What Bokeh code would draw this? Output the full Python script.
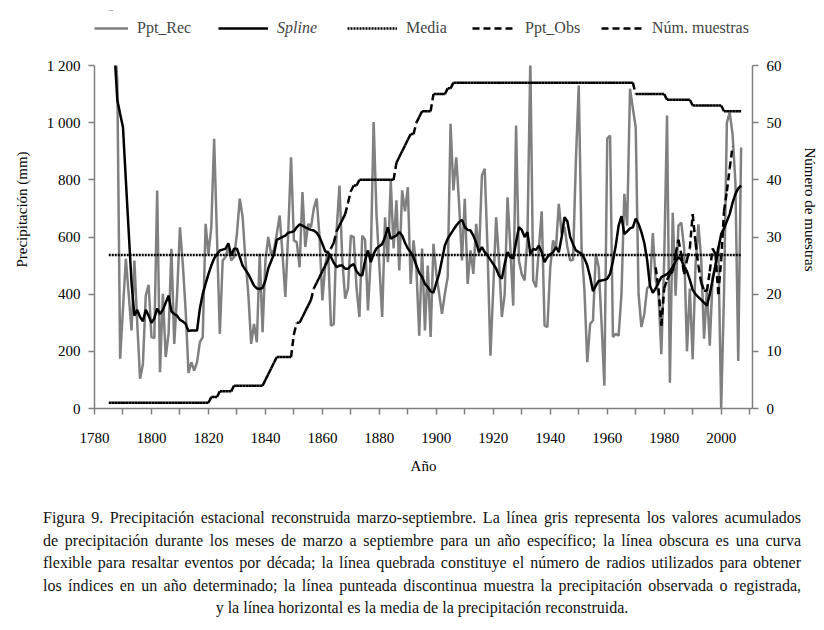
from bokeh.plotting import figure
from bokeh.models import (Range1d, LinearAxis, FixedTicker, Legend, LegendItem, Div,
                          BoxAnnotation)
from bokeh.layouts import column
from bokeh.embed import file_html
from bokeh.resources import INLINE

# ---------------- data ----------------
first_year = 1785
ppt_rec = [
    1400, 1350, 1300, 1150, 174,
    350, 524, 400, 273, 518, 300, 104, 156, 395, 433,
    250, 246, 763, 127, 401, 180, 261, 559, 226, 401,
    634, 506, 343, 124, 162, 133, 162, 232, 250, 646,
    540, 634, 944, 600, 261, 518, 530, 565, 518, 530,
    611, 734, 670, 518, 401, 226, 296, 232, 541, 267,
    518, 600, 541, 555, 611, 675, 541, 390, 611, 879,
    588, 582, 494, 757, 565, 646, 634, 700, 734, 600,
    378, 500, 553, 290, 295, 623, 780, 520, 384, 420,
    605, 600, 420, 320, 605, 590, 343, 530, 1002, 680,
    500, 320, 669, 512, 798, 560, 728, 483, 763, 690,
    774, 436, 588, 490, 255, 560, 273, 500, 250, 576,
    471, 400, 331, 401, 460, 996, 763, 879, 716, 518,
    734, 436, 553, 471, 646, 540, 815, 839, 550, 185,
    420, 669, 520, 320, 400, 739, 560, 360, 990, 518,
    470, 448, 600, 1220, 448, 424, 560, 690, 290, 285,
    494, 588, 560, 716, 611, 635, 565, 518, 520, 868,
    1130, 560, 413, 162, 296, 308, 541, 494, 300, 80,
    944, 955, 250, 261, 255, 400, 751, 640, 1119, 1050,
    984, 400, 285, 330, 420, 430, 614, 450, 401, 190,
    520, 1025, 90, 685, 395, 640, 650, 560, 200, 420,
    172, 500, 644, 520, 244, 420, 220, 460, 500, 567,
    0, 400, 1000, 1035, 960, 790, 166, 913,
]
spline = [
    1500, 1400, 1250, 1080, 1030,
    984, 800, 620, 440, 325, 345, 320, 305, 345, 325,
    300, 315, 350, 330, 345, 370, 395, 340, 330, 325,
    310, 305, 296, 271, 273, 273, 273, 350, 401, 436,
    470, 500, 525, 540, 553, 556, 559, 578, 535, 559,
    559, 530, 500, 485, 470, 450, 430, 420, 418, 422,
    448, 490, 515, 540, 590, 595, 600, 605, 615, 617,
    620, 634, 644, 640, 634, 629, 625, 623, 615, 600,
    576, 550, 545, 530, 510, 495, 500, 500, 489, 489,
    500, 505, 480, 468, 465, 518, 553, 512, 541, 560,
    568, 575, 600, 634, 594, 600, 605, 617, 605, 580,
    560, 547, 530, 500, 475, 460, 436, 425, 410, 405,
    440, 471, 520, 570, 594, 610, 625, 640, 652, 660,
    635, 625, 623, 605, 580, 547, 565, 547, 535, 520,
    505, 490, 465, 454, 506, 547, 530, 525, 582, 634,
    625, 600, 617, 540, 558, 555, 570, 547, 512, 530,
    540, 547, 565, 547, 600, 669, 655, 600, 575, 553,
    547, 541, 525, 500, 460, 410, 430, 446, 448, 450,
    454, 471, 515, 570, 640, 673, 610, 620, 630, 634,
    664, 646, 617, 580, 520, 430, 405, 420, 440, 460,
    465, 470, 480, 495, 515, 530, 520, 495, 480, 450,
    415, 400, 390, 380, 370, 360, 400, 450, 500, 560,
    610, 630, 655, 680, 720, 750, 770, 780,
]
num_muestras = [
    1, 1, 1, 1, 1,
    1, 1, 1, 1, 1, 1, 1, 1, 1, 1,
    1, 1, 1, 1, 1, 1, 1, 1, 1, 1,
    1, 1, 1, 1, 1, 1, 1, 1, 1, 1,
    1, 2, 2, 2, 3, 3, 3, 3, 3, 4,
    4, 4, 4, 4, 4, 4, 4, 4, 4, 4,
    5, 6, 7, 8, 9, 9, 9, 9, 9, 9,
    13, 15, 15, 16, 17, 18, 19, 21, 22, 23,
    24, 25, 26, 28, 29, 31, 32, 33, 34, 36,
    38, 39, 39, 40, 40, 40, 40, 40, 40, 40,
    40, 40, 40, 40, 40, 40, 43, 44, 45, 46,
    47, 48, 48, 50, 51, 52, 52, 52, 52, 55,
    55, 55, 55, 55, 56, 56, 57, 57, 57, 57,
    57, 57, 57, 57, 57, 57, 57, 57, 57, 57,
    57, 57, 57, 57, 57, 57, 57, 57, 57, 57,
    57, 57, 57, 57, 57, 57, 57, 57, 57, 57,
    57, 57, 57, 57, 57, 57, 57, 57, 57, 57,
    57, 57, 57, 57, 57, 57, 57, 57, 57, 57,
    57, 57, 57, 57, 57, 57, 57, 57, 57, 57,
    55, 55, 55, 55, 55, 55, 55, 55, 55, 55,
    55, 54, 54, 54, 54, 54, 54, 54, 54, 54,
    53, 53, 53, 53, 53, 53, 53, 53, 53, 53,
    53, 52, 52, 52, 52, 52, 52, 52,
]
obs_years = list(range(1977, 2005))
ppt_obs = [494, 420, 290, 420, 450, 470, 480, 540, 590, 540, 470, 520, 560, 680,
           580, 500, 440, 413, 411, 480, 560, 540, 400, 520, 690, 760, 840, 917]
media = 537

x_ticks = [1780, 1790, 1800, 1810, 1820, 1830, 1840, 1850, 1860, 1870, 1880, 1890,
           1900, 1910, 1920, 1930, 1940, 1950, 1960, 1970, 1980, 1990, 2000, 2010]
x_tick_labels = ["1780", "", "1800", "", "1820", "", "1840", "", "1860", "", "1880", "",
                 "1900", "", "1920", "", "1940", "", "1960", "", "1980", "", "2000", ""]
y_ticks = [0, 200, 400, 600, 800, 1000, 1200]
y_tick_labels = ["0", "200", "400", "600", "800", "1 000", "1 200"]
y2_ticks = [0, 10, 20, 30, 40, 50, 60]
y_max, y2_max = 1200, 60

caption_lines = [
    "Figura 9. Precipitación estacional reconstruida marzo-septiembre. La línea gris representa los valores acumulados",
    "de precipitación durante los meses de marzo a septiembre para un año específico; la línea obscura es una curva",
    "flexible para resaltar eventos por década; la línea quebrada constituye el número de radios utilizados para obtener",
    "los índices en un año determinado; la línea punteada discontinua muestra la precipitación observada o registrada,",
    "y la línea horizontal es la media de la precipitación reconstruida.",
]

n = min(len(ppt_rec), len(spline), len(num_muestras))
years = list(range(first_year, first_year + n))
ppt_rec, spline, num_muestras = ppt_rec[:n], spline[:n], num_muestras[:n]

FONT = "Liberation Serif"
AXC = "#7f7f7f"

# layout: plotting area 343 px tall; the frame extends 55 px higher to hold the legend row
PLOT_H, EXTRA_TOP = 343, 55
FRAME_H = PLOT_H + EXTRA_TOP
scale = FRAME_H / PLOT_H

p = figure(frame_width=658, frame_height=FRAME_H, output_backend="svg", toolbar_location=None,
           x_range=Range1d(1780, 2011), y_range=Range1d(0, y_max * scale),
           min_border_left=94, min_border_right=64, min_border_top=10, min_border_bottom=80)
p.extra_y_ranges = {"count": Range1d(0, y2_max * scale)}
p.outline_line_color = None
p.xgrid.visible = False
p.ygrid.visible = False
p.background_fill_color = "white"

r_rec = p.line(years, ppt_rec, line_color="#808080", line_width=2.5)
r_spl = p.line(years, spline, line_color="black", line_width=2.5)
r_med = p.segment(x0=[years[0]], x1=[years[-1]], y0=[media], y1=[media],
                  line_color="black", line_width=2.5, line_dash="2 1")

# dashed lines drawn segment by segment (dash pattern restarts at each year)
obs_xs = [[obs_years[i], obs_years[i + 1]] for i in range(len(obs_years) - 1)]
obs_ys = [[ppt_obs[i], ppt_obs[i + 1]] for i in range(len(obs_years) - 1)]
r_obs = p.multi_line(obs_xs, obs_ys, line_color="black", line_width=2.5, line_dash="7 4")
cnt_xs = [[years[i], years[i + 1]] for i in range(n - 1)]
cnt_ys = [[num_muestras[i], num_muestras[i + 1]] for i in range(n - 1)]
r_cnt = p.multi_line(cnt_xs, cnt_ys, line_color="black", line_width=2.5, line_dash="7 4",
                     y_range_name="count")

# white mask above the top of the value axis (plot area is clipped at 1 200 mm)
p.add_layout(BoxAnnotation(bottom=y_max, fill_color="white", fill_alpha=1.0,
                           line_color=None))

# axes
xa = p.xaxis[0]
xa.ticker = FixedTicker(ticks=x_ticks)
xa.major_label_overrides = {t: l for t, l in zip(x_ticks, x_tick_labels)}
xa.axis_label = "Año"
ya = p.yaxis[0]
ya.ticker = FixedTicker(ticks=y_ticks)
ya.major_label_overrides = {t: l for t, l in zip(y_ticks, y_tick_labels)}
ya.axis_label = "Precipitación (mm)"
ya.bounds = (0, y_max)
y2 = LinearAxis(y_range_name="count", ticker=FixedTicker(ticks=y2_ticks),
                axis_label="Número de muestras", bounds=(0, y2_max))
p.add_layout(y2, "right")

for ax in (xa, ya, y2):
    ax.axis_line_color = AXC
    ax.axis_line_width = 1.5
    ax.major_tick_line_color = AXC
    ax.major_tick_line_width = 1.5
    ax.major_tick_out = 6
    ax.major_tick_in = 0
    ax.minor_tick_line_color = None
    ax.major_label_text_font = FONT
    ax.major_label_text_font_size = "15px"
    ax.major_label_text_color = "black"
    ax.axis_label_text_font = FONT
    ax.axis_label_text_font_size = "15px"
    ax.axis_label_text_font_style = "normal"
    ax.axis_label_text_color = "black"
xa.major_label_standoff = 18
xa.axis_label_standoff = 12
ya.major_label_standoff = 8
ya.axis_label_standoff = 14
y2.major_label_standoff = 8
y2.axis_label_standoff = 17

# legend row (one small legend per entry, placed in the strip above the plotting area)
def add_legend(label, renderer, x, glyph_w=50, italic=False):
    lg = Legend(items=[LegendItem(label=label, renderers=[renderer])],
                location=(x, PLOT_H + 28), orientation="horizontal",
                glyph_width=glyph_w, glyph_height=18, label_standoff=9,
                padding=0, margin=0, border_line_color=None, background_fill_alpha=0,
                label_text_font=FONT, label_text_font_size="16px",
                label_text_font_style="italic" if italic else "normal")
    p.add_layout(lg, "center")

add_legend("Ppt_Rec", r_rec, 0, glyph_w=34)
add_legend("Spline", r_spl, 124, italic=True)
add_legend("Media", r_med, 253)
add_legend("Ppt_Obs", r_obs, 378, glyph_w=44)
add_legend("Núm. muestras", r_cnt, 507, glyph_w=42)

line_divs = []
for i, line in enumerate(caption_lines):
    last = i == len(caption_lines) - 1
    align = "text-align:center;" if last else "text-align:justify;text-align-last:justify;"
    line_divs.append(f'<div style="{align}white-space:nowrap;">{line}</div>')
caption = Div(text=(f'<div style="width:758px;margin-left:38px;padding-top:14px;'
                    f'font-family:\'{FONT}\';font-size:16px;line-height:22.5px;color:#111;">'
                    + "".join(line_divs) + "</div>"),
              width=816, height=130)

layout = column(p, caption, spacing=0)
open("out.html", "w").write(file_html(layout, INLINE))
